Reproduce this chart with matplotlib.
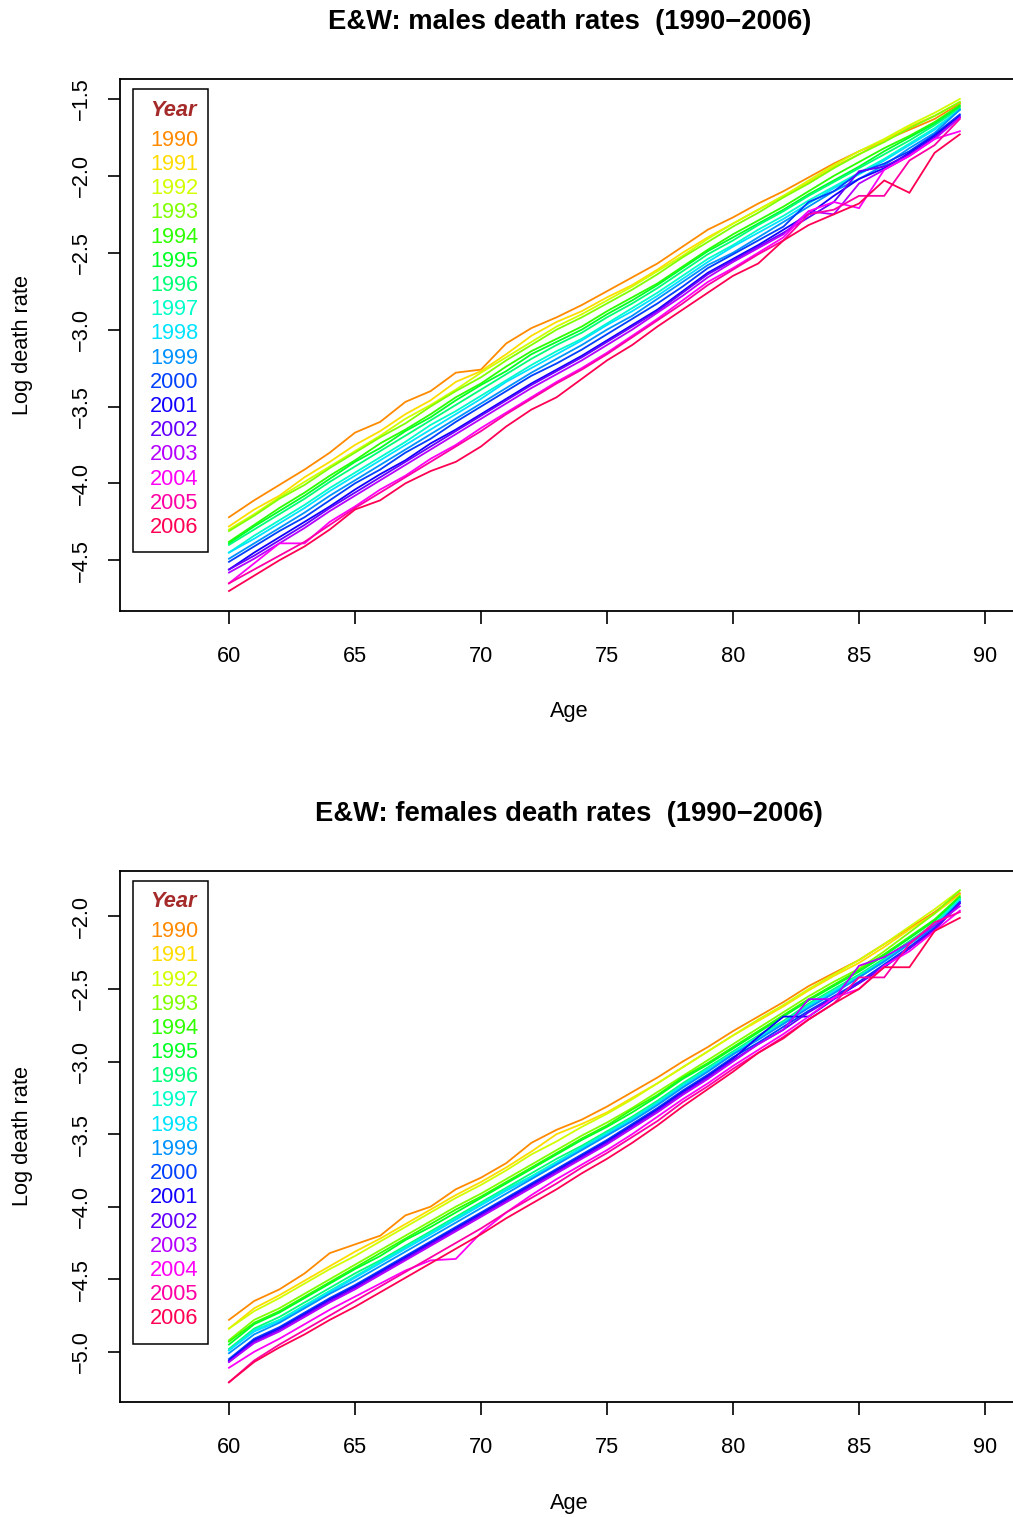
import colorsys
import numpy as np
import matplotlib.pyplot as plt
from matplotlib.patches import Rectangle

plt.rcParams['font.family'] = ['Liberation Sans', 'DejaVu Sans']

ages = np.arange(60, 90)
years = list(range(1990, 2007))

# log death rates, males, one row per year (ages 60..89)
male_rates = [
    [-4.22, -4.11, -4.01, -3.91, -3.80, -3.67, -3.60, -3.47, -3.40, -3.28,
     -3.26, -3.09, -2.99, -2.92, -2.84, -2.75, -2.66, -2.57, -2.46, -2.35,
     -2.27, -2.18, -2.10, -2.01, -1.92, -1.84, -1.77, -1.70, -1.63, -1.53],
    [-4.28, -4.17, -4.08, -3.96, -3.86, -3.75, -3.66, -3.55, -3.46, -3.34,
     -3.27, -3.16, -3.04, -2.95, -2.88, -2.79, -2.71, -2.61, -2.50, -2.40,
     -2.31, -2.22, -2.13, -2.04, -1.94, -1.86, -1.77, -1.68, -1.61, -1.52],
    [-4.30, -4.20, -4.09, -3.99, -3.89, -3.79, -3.69, -3.58, -3.49, -3.39,
     -3.28, -3.18, -3.08, -2.98, -2.90, -2.81, -2.72, -2.62, -2.52, -2.41,
     -2.31, -2.22, -2.13, -2.03, -1.93, -1.84, -1.76, -1.67, -1.59, -1.50],
    [-4.31, -4.21, -4.10, -4.01, -3.90, -3.80, -3.70, -3.61, -3.50, -3.40,
     -3.31, -3.20, -3.10, -3.00, -2.92, -2.83, -2.74, -2.64, -2.53, -2.43,
     -2.33, -2.24, -2.14, -2.05, -1.95, -1.86, -1.78, -1.69, -1.61, -1.52],
    [-4.38, -4.27, -4.16, -4.06, -3.95, -3.85, -3.74, -3.65, -3.55, -3.44,
     -3.35, -3.24, -3.14, -3.06, -2.98, -2.88, -2.79, -2.70, -2.59, -2.48,
     -2.38, -2.29, -2.20, -2.10, -2.00, -1.91, -1.82, -1.74, -1.65, -1.54],
    [-4.39, -4.28, -4.18, -4.08, -3.97, -3.86, -3.77, -3.66, -3.57, -3.46,
     -3.36, -3.27, -3.16, -3.08, -3.00, -2.90, -2.81, -2.71, -2.60, -2.49,
     -2.40, -2.31, -2.22, -2.12, -2.03, -1.94, -1.84, -1.75, -1.66, -1.55],
    [-4.40, -4.30, -4.20, -4.10, -3.99, -3.89, -3.79, -3.69, -3.59, -3.49,
     -3.39, -3.29, -3.19, -3.10, -3.02, -2.92, -2.83, -2.73, -2.62, -2.51,
     -2.42, -2.32, -2.23, -2.13, -2.04, -1.95, -1.86, -1.77, -1.67, -1.56],
    [-4.45, -4.34, -4.24, -4.14, -4.03, -3.93, -3.83, -3.73, -3.62, -3.53,
     -3.43, -3.33, -3.23, -3.14, -3.06, -2.96, -2.86, -2.76, -2.65, -2.54,
     -2.45, -2.35, -2.26, -2.16, -2.07, -1.98, -1.89, -1.79, -1.69, -1.57],
    [-4.45, -4.36, -4.26, -4.16, -4.05, -3.95, -3.85, -3.75, -3.65, -3.55,
     -3.45, -3.34, -3.25, -3.16, -3.07, -2.97, -2.88, -2.78, -2.67, -2.56,
     -2.46, -2.37, -2.28, -2.18, -2.08, -1.99, -1.90, -1.80, -1.70, -1.57],
    [-4.49, -4.39, -4.29, -4.19, -4.08, -3.98, -3.88, -3.78, -3.68, -3.58,
     -3.48, -3.38, -3.28, -3.19, -3.10, -3.00, -2.91, -2.80, -2.69, -2.58,
     -2.50, -2.40, -2.30, -2.20, -2.10, -2.02, -1.93, -1.82, -1.72, -1.57],
    [-4.51, -4.41, -4.31, -4.22, -4.11, -4.00, -3.91, -3.80, -3.71, -3.60,
     -3.50, -3.40, -3.30, -3.22, -3.13, -3.03, -2.93, -2.83, -2.72, -2.60,
     -2.51, -2.42, -2.33, -2.17, -2.10, -1.98, -1.92, -1.84, -1.73, -1.60],
    [-4.56, -4.45, -4.35, -4.25, -4.15, -4.04, -3.94, -3.85, -3.74, -3.65,
     -3.55, -3.45, -3.35, -3.26, -3.17, -3.07, -2.97, -2.87, -2.75, -2.63,
     -2.54, -2.45, -2.35, -2.25, -2.13, -2.02, -1.95, -1.85, -1.74, -1.61],
    [-4.56, -4.47, -4.37, -4.27, -4.16, -4.06, -3.96, -3.86, -3.76, -3.66,
     -3.56, -3.46, -3.36, -3.27, -3.18, -3.08, -2.98, -2.88, -2.76, -2.64,
     -2.55, -2.46, -2.37, -2.27, -2.17, -1.97, -1.94, -1.86, -1.75, -1.62],
    [-4.58, -4.49, -4.39, -4.29, -4.18, -4.08, -3.98, -3.88, -3.78, -3.68,
     -3.58, -3.48, -3.38, -3.29, -3.20, -3.10, -3.00, -2.89, -2.78, -2.66,
     -2.56, -2.47, -2.38, -2.23, -2.25, -2.05, -1.96, -1.87, -1.76, -1.62],
    [-4.65, -4.52, -4.39, -4.39, -4.25, -4.15, -4.04, -3.95, -3.84, -3.75,
     -3.64, -3.54, -3.44, -3.34, -3.25, -3.15, -3.04, -2.93, -2.81, -2.69,
     -2.60, -2.50, -2.40, -2.23, -2.17, -2.21, -1.96, -1.87, -1.76, -1.71],
    [-4.65, -4.56, -4.47, -4.38, -4.27, -4.16, -4.06, -3.96, -3.86, -3.76,
     -3.66, -3.55, -3.45, -3.35, -3.26, -3.16, -3.05, -2.94, -2.83, -2.71,
     -2.61, -2.51, -2.42, -2.25, -2.22, -2.13, -2.13, -1.90, -1.80, -1.63],
    [-4.70, -4.60, -4.50, -4.41, -4.30, -4.17, -4.11, -4.00, -3.92, -3.86,
     -3.76, -3.63, -3.52, -3.44, -3.32, -3.20, -3.10, -2.98, -2.87, -2.76,
     -2.65, -2.57, -2.42, -2.32, -2.25, -2.18, -2.03, -2.11, -1.85, -1.73],
]

# log death rates, females, one row per year (ages 60..89)
female_rates = [
    [-4.78, -4.65, -4.57, -4.46, -4.32, -4.26, -4.20, -4.06, -4.00, -3.88,
     -3.80, -3.70, -3.56, -3.47, -3.40, -3.31, -3.21, -3.11, -3.00, -2.90,
     -2.79, -2.69, -2.59, -2.48, -2.39, -2.30, -2.19, -2.08, -1.97, -1.84],
    [-4.84, -4.70, -4.61, -4.51, -4.41, -4.31, -4.22, -4.12, -4.02, -3.92,
     -3.83, -3.73, -3.62, -3.50, -3.43, -3.35, -3.25, -3.15, -3.04, -2.93,
     -2.82, -2.72, -2.62, -2.51, -2.41, -2.32, -2.21, -2.09, -1.98, -1.85],
    [-4.84, -4.72, -4.63, -4.53, -4.43, -4.34, -4.24, -4.14, -4.04, -3.94,
     -3.85, -3.75, -3.64, -3.55, -3.45, -3.36, -3.26, -3.15, -3.04, -2.93,
     -2.82, -2.71, -2.61, -2.50, -2.40, -2.30, -2.19, -2.07, -1.95, -1.82],
    [-4.92, -4.78, -4.70, -4.60, -4.50, -4.40, -4.30, -4.20, -4.10, -4.00,
     -3.91, -3.81, -3.71, -3.61, -3.51, -3.42, -3.32, -3.21, -3.10, -2.99,
     -2.88, -2.77, -2.66, -2.55, -2.45, -2.36, -2.24, -2.11, -1.98, -1.82],
    [-4.93, -4.80, -4.72, -4.62, -4.52, -4.42, -4.32, -4.22, -4.12, -4.02,
     -3.93, -3.83, -3.73, -3.63, -3.53, -3.44, -3.33, -3.23, -3.11, -3.01,
     -2.90, -2.79, -2.68, -2.57, -2.47, -2.37, -2.26, -2.14, -2.02, -1.86],
    [-4.95, -4.81, -4.73, -4.63, -4.53, -4.43, -4.34, -4.23, -4.14, -4.04,
     -3.94, -3.84, -3.74, -3.64, -3.54, -3.45, -3.35, -3.24, -3.12, -3.02,
     -2.91, -2.80, -2.69, -2.58, -2.48, -2.38, -2.27, -2.15, -2.03, -1.87],
    [-4.98, -4.84, -4.76, -4.66, -4.56, -4.46, -4.37, -4.27, -4.17, -4.07,
     -3.97, -3.87, -3.77, -3.67, -3.58, -3.48, -3.38, -3.27, -3.15, -3.04,
     -2.93, -2.82, -2.72, -2.60, -2.50, -2.40, -2.29, -2.17, -2.05, -1.88],
    [-4.99, -4.85, -4.78, -4.68, -4.58, -4.48, -4.38, -4.28, -4.18, -4.08,
     -3.98, -3.88, -3.79, -3.69, -3.59, -3.49, -3.39, -3.28, -3.16, -3.05,
     -2.94, -2.83, -2.73, -2.61, -2.51, -2.41, -2.30, -2.18, -2.05, -1.88],
    [-4.99, -4.86, -4.79, -4.69, -4.59, -4.49, -4.39, -4.29, -4.19, -4.09,
     -3.99, -3.89, -3.80, -3.70, -3.60, -3.50, -3.40, -3.29, -3.17, -3.06,
     -2.95, -2.84, -2.74, -2.62, -2.52, -2.42, -2.31, -2.18, -2.06, -1.89],
    [-5.01, -4.88, -4.80, -4.70, -4.60, -4.51, -4.41, -4.31, -4.21, -4.11,
     -4.01, -3.91, -3.81, -3.71, -3.61, -3.51, -3.41, -3.30, -3.18, -3.07,
     -2.95, -2.85, -2.74, -2.63, -2.53, -2.42, -2.31, -2.19, -2.07, -1.90],
    [-5.05, -4.91, -4.83, -4.73, -4.63, -4.54, -4.44, -4.34, -4.24, -4.14,
     -4.04, -3.94, -3.84, -3.74, -3.64, -3.54, -3.43, -3.32, -3.20, -3.09,
     -2.97, -2.87, -2.76, -2.65, -2.55, -2.45, -2.33, -2.21, -2.08, -1.90],
    [-5.06, -4.92, -4.84, -4.74, -4.64, -4.55, -4.45, -4.35, -4.25, -4.15,
     -4.05, -3.95, -3.85, -3.75, -3.65, -3.55, -3.44, -3.33, -3.21, -3.10,
     -2.98, -2.83, -2.69, -2.69, -2.57, -2.46, -2.35, -2.22, -2.09, -1.91],
    [-5.07, -4.93, -4.85, -4.75, -4.65, -4.56, -4.46, -4.36, -4.26, -4.16,
     -4.06, -3.96, -3.86, -3.76, -3.66, -3.56, -3.45, -3.34, -3.22, -3.11,
     -2.99, -2.88, -2.78, -2.66, -2.56, -2.46, -2.34, -2.22, -2.09, -1.91],
    [-5.07, -4.94, -4.86, -4.76, -4.66, -4.57, -4.47, -4.37, -4.27, -4.17,
     -4.07, -3.97, -3.87, -3.77, -3.67, -3.57, -3.46, -3.35, -3.23, -3.12,
     -3.00, -2.88, -2.78, -2.57, -2.57, -2.34, -2.28, -2.18, -2.06, -1.93],
    [-5.11, -5.00, -4.91, -4.81, -4.71, -4.62, -4.53, -4.44, -4.37, -4.36,
     -4.18, -4.04, -3.92, -3.81, -3.71, -3.61, -3.50, -3.38, -3.26, -3.15,
     -3.03, -2.92, -2.81, -2.69, -2.56, -2.50, -2.34, -2.24, -2.10, -1.96],
    [-5.21, -5.06, -4.95, -4.85, -4.75, -4.65, -4.55, -4.45, -4.35, -4.25,
     -4.15, -4.04, -3.94, -3.84, -3.73, -3.63, -3.52, -3.41, -3.28, -3.17,
     -3.05, -2.94, -2.83, -2.71, -2.60, -2.42, -2.42, -2.19, -2.04, -1.97],
    [-5.21, -5.07, -4.97, -4.88, -4.78, -4.69, -4.59, -4.49, -4.39, -4.29,
     -4.19, -4.08, -3.98, -3.88, -3.77, -3.67, -3.56, -3.44, -3.31, -3.19,
     -3.07, -2.94, -2.84, -2.71, -2.60, -2.50, -2.35, -2.35, -2.10, -2.01],
]

male_yticks = [-1.5, -2.0, -2.5, -3.0, -3.5, -4.0, -4.5]
female_yticks = [-2.0, -2.5, -3.0, -3.5, -4.0, -4.5, -5.0]
age_ticks = [60, 65, 70, 75, 80, 85, 90]

# rainbow palette, orange -> red-pink
colors = [colorsys.hsv_to_rgb((0.09 + 0.0535 * i) % 1.0, 1.0, 1.0) for i in range(len(years))]

W, H = 1013, 1517
fig = plt.figure(figsize=(W / 100, H / 100), dpi=100)

AX_LEFT, AX_W, AX_H = 120.1, 898.2, 531.4
FS = 15.7


def draw_panel(top_px, rates, title, ylim, yticks):
    ax = fig.add_axes([AX_LEFT / W, 1 - (top_px + AX_H) / H, AX_W / W, AX_H / H])
    for vals, col in zip(rates, colors):
        ax.plot(ages, vals, color=col, lw=1.3, solid_joinstyle='miter')
    ax.set_xlim(55.68, 91.32)
    ax.set_ylim(*ylim)
    ax.set_xticks(age_ticks)
    ax.set_yticks(yticks)
    ax.set_yticklabels([f"{t:.1f}".replace('-', '\u2212') for t in yticks])
    ax.tick_params(direction='out', length=9, width=1.2, labelsize=FS, color='black')
    ax.tick_params(axis='x', pad=16.5)
    ax.tick_params(axis='y', pad=11)
    for lab in ax.get_yticklabels():
        lab.set_rotation(90)
        lab.set_va('center')
    for s in ax.spines.values():
        s.set_linewidth(1.3)
    ax.text(0.5, 1 + 57 / AX_H, title, transform=ax.transAxes, ha='center', va='center',
            fontsize=19.7, fontweight='bold')
    ax.set_xlabel('Age', fontsize=FS)
    ax.xaxis.label.set_va('center')
    ax.xaxis.set_label_coords(0.5, -101 / AX_H)
    ax.set_ylabel('Log death rate', fontsize=FS)
    ax.yaxis.label.set_va('center')
    ax.yaxis.set_label_coords(-98 / AX_W, 0.5)

    # legend box with coloured year labels
    fx = lambda px: (px - AX_LEFT) / AX_W
    fy = lambda dy: 1 - dy / AX_H
    ax.add_patch(Rectangle((fx(133), fy(473)), 75 / AX_W, 463 / AX_H, transform=ax.transAxes,
                           fill=False, lw=1.1, edgecolor='black', clip_on=False))
    ax.text(fx(173), fy(31), 'Year', transform=ax.transAxes, ha='center', va='center',
            fontsize=FS, fontweight='bold', fontstyle='italic', color='#A52A2A')
    for k, (yr, col) in enumerate(zip(years, colors)):
        ax.text(fx(150), fy(61 + 24.2 * k), str(yr), transform=ax.transAxes,
                ha='left', va='center', fontsize=FS, color=col)
    return ax


draw_panel(79.3, male_rates, 'E&W: males death rates  (1990\u22122006)', (-4.828, -1.372), male_yticks)
draw_panel(870.6, female_rates, 'E&W: females death rates  (1990\u22122006)', (-5.346, -1.684), female_yticks)

fig.savefig('out.png', dpi=100)
